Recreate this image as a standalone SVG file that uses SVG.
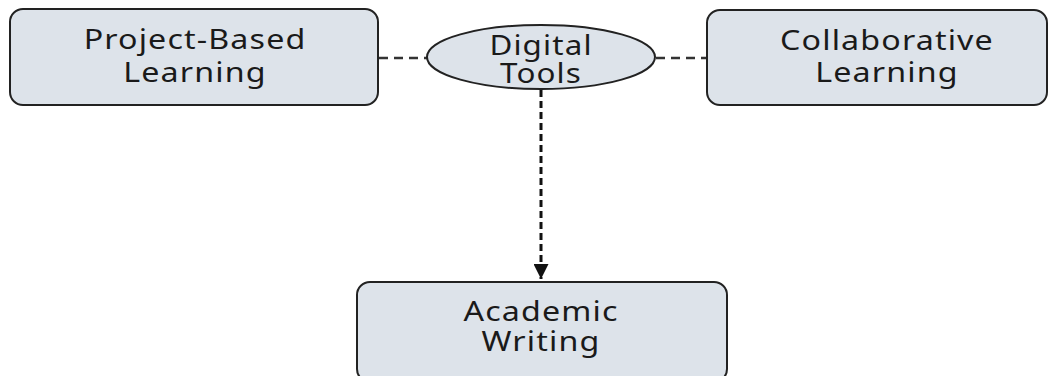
<svg xmlns="http://www.w3.org/2000/svg" width="1053" height="376" viewBox="0 0 1053 376">
  <style>
    .box { fill: #dde3ea; stroke: #222; stroke-width: 2; }
    .label { font-family: "Noto Sans", "Open Sans", sans-serif; font-size: 28px; letter-spacing: 1px; fill: #1a1a1a; text-anchor: middle; }
    .link { stroke: #333; stroke-width: 2.5; fill: none; stroke-dasharray: 9 6; }
    .flow { stroke: #111; stroke-width: 3; fill: none; stroke-dasharray: 7 4; }
  </style>
  <defs>
    <marker id="arrow" viewBox="0 0 10 10" refX="10" refY="5" markerWidth="6" markerHeight="5" markerUnits="strokeWidth" orient="auto">
      <path d="M0,0 L10,5 L0,10 Z" fill="#111"/>
    </marker>
  </defs>
  <rect width="1053" height="376" fill="#ffffff"/>

  <g id="connectors">
    <line class="link" x1="379" y1="58" x2="427" y2="58"/>
    <line class="link" x1="656" y1="58" x2="707" y2="58"/>
    <line class="flow" x1="541" y1="90" x2="541" y2="279" marker-end="url(#arrow)"/>
  </g>

  <g id="project-based-learning">
    <rect class="box" x="10" y="9" width="368" height="96" rx="13"/>
    <text class="label" transform="translate(195 49) scale(1.15 1)">Project-Based</text>
    <text class="label" transform="translate(195 82) scale(1.15 1)">Learning</text>
  </g>

  <g id="digital-tools">
    <ellipse class="box" cx="541" cy="57" rx="114" ry="32"/>
    <text class="label" transform="translate(541 55) scale(1.12 1)">Digital</text>
    <text class="label" transform="translate(541 83) scale(1.12 1)">Tools</text>
  </g>

  <g id="collaborative-learning">
    <rect class="box" x="707" y="10" width="340" height="95" rx="13"/>
    <text class="label" transform="translate(887 50) scale(1.15 1)">Collaborative</text>
    <text class="label" transform="translate(887 82) scale(1.15 1)">Learning</text>
  </g>

  <g id="academic-writing">
    <rect class="box" x="357" y="282" width="370" height="100" rx="13"/>
    <text class="label" transform="translate(541 321) scale(1.15 1)">Academic</text>
    <text class="label" transform="translate(541 351) scale(1.15 1)">Writing</text>
  </g>
</svg>
